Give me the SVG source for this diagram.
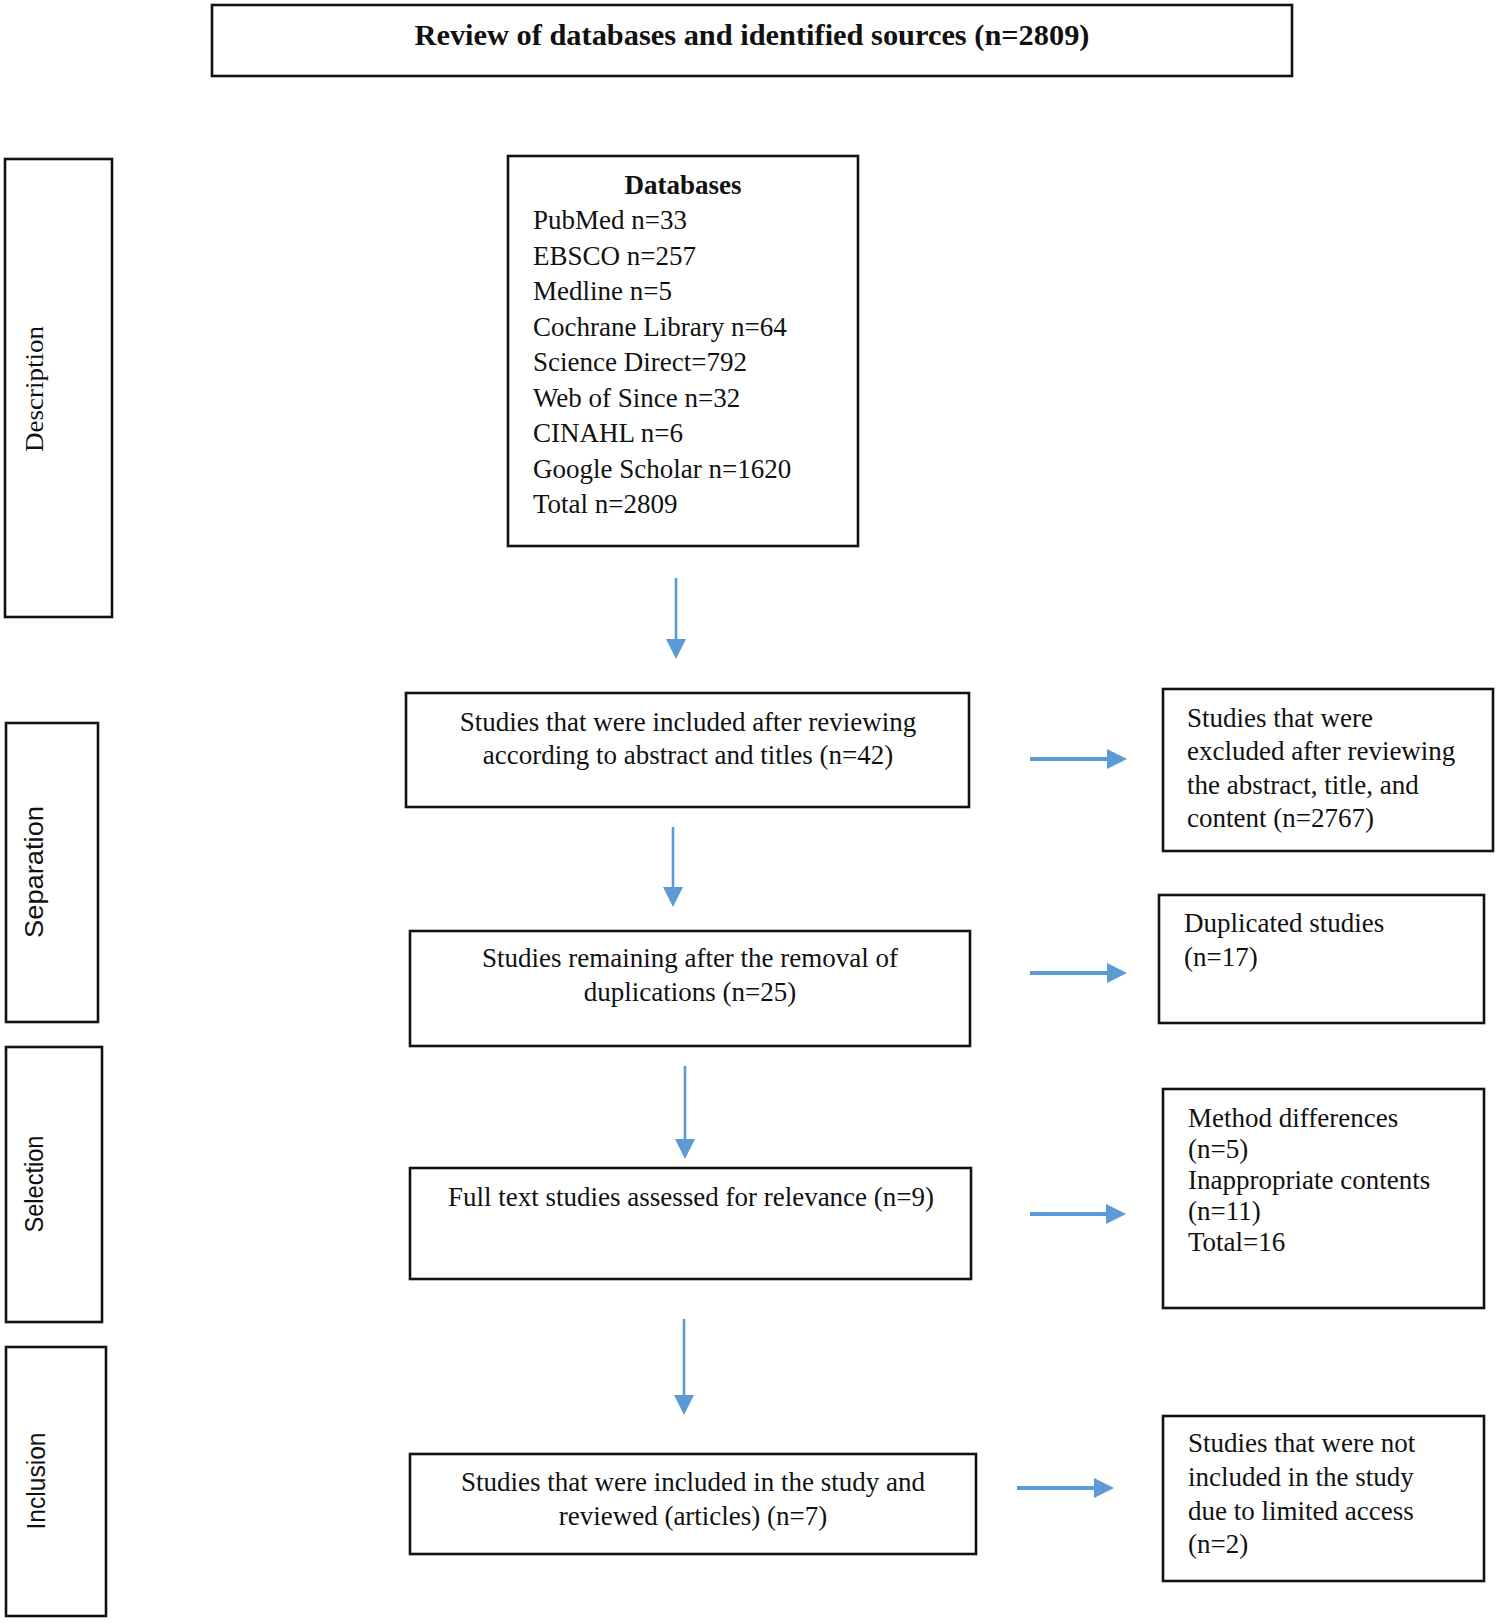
<svg xmlns="http://www.w3.org/2000/svg" width="1499" height="1623" viewBox="0 0 1499 1623">
<style>
.box{fill:#fff;stroke:#111;stroke-width:2.6}
.t{font-family:"Liberation Serif","Times New Roman",serif;font-size:27px;fill:#111}
.c{text-anchor:middle}
.b{font-weight:bold}
.side{font-family:"Liberation Sans",Arial,sans-serif;font-size:25px;fill:#111;text-anchor:middle}
.sideS{font-family:"Liberation Serif","Times New Roman",serif;font-size:25px;fill:#111;text-anchor:middle}
.ad{stroke:#5B9BD5;stroke-width:2.6;fill:none}
.ar{stroke:#5B9BD5;stroke-width:4;fill:none}
</style>
<defs>
<marker id="hd" markerUnits="userSpaceOnUse" viewBox="0 0 20 20" markerWidth="20" markerHeight="20" refX="9" refY="10" orient="auto">
<path d="M0,0 L20,10 L0,20 Z" fill="#5B9BD5"/>
</marker>
</defs>
<rect width="1499" height="1623" fill="#fff"/>

<g id="title">
<rect class="box" x="212" y="5" width="1080" height="71"/>
<text class="t c b" x="752" y="45" style="font-size:30px" textLength="675" lengthAdjust="spacingAndGlyphs">Review of databases and identified sources (n=2809)</text>
</g>

<g id="stage-description">
<rect class="box" x="5" y="159" width="107" height="458"/>
<text class="sideS" transform="translate(43,389) rotate(-90)" textLength="126" lengthAdjust="spacingAndGlyphs">Description</text>
</g>
<g id="stage-separation">
<rect class="box" x="6" y="723" width="92" height="299"/>
<text class="side" transform="translate(43,872) rotate(-90)" textLength="132" lengthAdjust="spacingAndGlyphs">Separation</text>
</g>
<g id="stage-selection">
<rect class="box" x="6" y="1047" width="96" height="275"/>
<text class="side" transform="translate(43,1184) rotate(-90)" textLength="97" lengthAdjust="spacingAndGlyphs">Selection</text>
</g>
<g id="stage-inclusion">
<rect class="box" x="6" y="1347" width="100" height="269"/>
<text class="side" transform="translate(45,1481) rotate(-90)" textLength="97" lengthAdjust="spacingAndGlyphs">Inclusion</text>
</g>

<g id="databases">
<rect class="box" x="508" y="156" width="350" height="390"/>
<text class="t c b" x="683" y="194">Databases</text>
<text class="t" x="533" y="229">PubMed n=33</text>
<text class="t" x="533" y="265">EBSCO n=257</text>
<text class="t" x="533" y="300">Medline n=5</text>
<text class="t" x="533" y="336">Cochrane Library n=64</text>
<text class="t" x="533" y="371">Science Direct=792</text>
<text class="t" x="533" y="407">Web of Since n=32</text>
<text class="t" x="533" y="442">CINAHL n=6</text>
<text class="t" x="533" y="478">Google Scholar n=1620</text>
<text class="t" x="533" y="513">Total n=2809</text>
</g>

<g id="screened">
<rect class="box" x="406" y="693" width="563" height="114"/>
<text class="t c" x="688" y="731">Studies that were included after reviewing</text>
<text class="t c" x="688" y="764">according to abstract and titles (n=42)</text>
</g>

<g id="excluded-screening">
<rect class="box" x="1163" y="689" width="330" height="162"/>
<text class="t" x="1187" y="727">Studies that were</text>
<text class="t" x="1187" y="760">excluded after reviewing</text>
<text class="t" x="1187" y="794">the abstract, title, and</text>
<text class="t" x="1187" y="827">content (n=2767)</text>
</g>

<g id="deduplicated">
<rect class="box" x="410" y="931" width="560" height="115"/>
<text class="t c" x="690" y="967">Studies remaining after the removal of</text>
<text class="t c" x="690" y="1001">duplications (n=25)</text>
</g>

<g id="duplicates">
<rect class="box" x="1159" y="895" width="325" height="128"/>
<text class="t" x="1184" y="932">Duplicated studies</text>
<text class="t" x="1184" y="966">(n=17)</text>
</g>

<g id="fulltext">
<rect class="box" x="410" y="1168" width="561" height="111"/>
<text class="t c" x="691" y="1206">Full text studies assessed for relevance (n=9)</text>
</g>

<g id="excluded-fulltext">
<rect class="box" x="1163" y="1089" width="321" height="219"/>
<text class="t" x="1188" y="1127">Method differences</text>
<text class="t" x="1188" y="1158">(n=5)</text>
<text class="t" x="1188" y="1189">Inappropriate contents</text>
<text class="t" x="1188" y="1220">(n=11)</text>
<text class="t" x="1188" y="1251">Total=16</text>
</g>

<g id="included">
<rect class="box" x="410" y="1454" width="566" height="100"/>
<text class="t c" x="693" y="1491">Studies that were included in the study and</text>
<text class="t c" x="693" y="1525">reviewed (articles) (n=7)</text>
</g>

<g id="limited-access">
<rect class="box" x="1163" y="1416" width="321" height="165"/>
<text class="t" x="1188" y="1452">Studies that were not</text>
<text class="t" x="1188" y="1486">included in the study</text>
<text class="t" x="1188" y="1520">due to limited access</text>
<text class="t" x="1188" y="1553">(n=2)</text>
</g>

<g id="connectors">
<line class="ad" x1="676" y1="578" x2="676" y2="648" marker-end="url(#hd)"/>
<line class="ad" x1="673" y1="827" x2="673" y2="896" marker-end="url(#hd)"/>
<line class="ad" x1="685" y1="1066" x2="685" y2="1148" marker-end="url(#hd)"/>
<line class="ad" x1="684" y1="1319" x2="684" y2="1404" marker-end="url(#hd)"/>
<line class="ar" x1="1030" y1="759" x2="1116" y2="759" marker-end="url(#hd)"/>
<line class="ar" x1="1030" y1="973" x2="1116" y2="973" marker-end="url(#hd)"/>
<line class="ar" x1="1030" y1="1214" x2="1115" y2="1214" marker-end="url(#hd)"/>
<line class="ar" x1="1017" y1="1488" x2="1103" y2="1488" marker-end="url(#hd)"/>
</g>
</svg>
